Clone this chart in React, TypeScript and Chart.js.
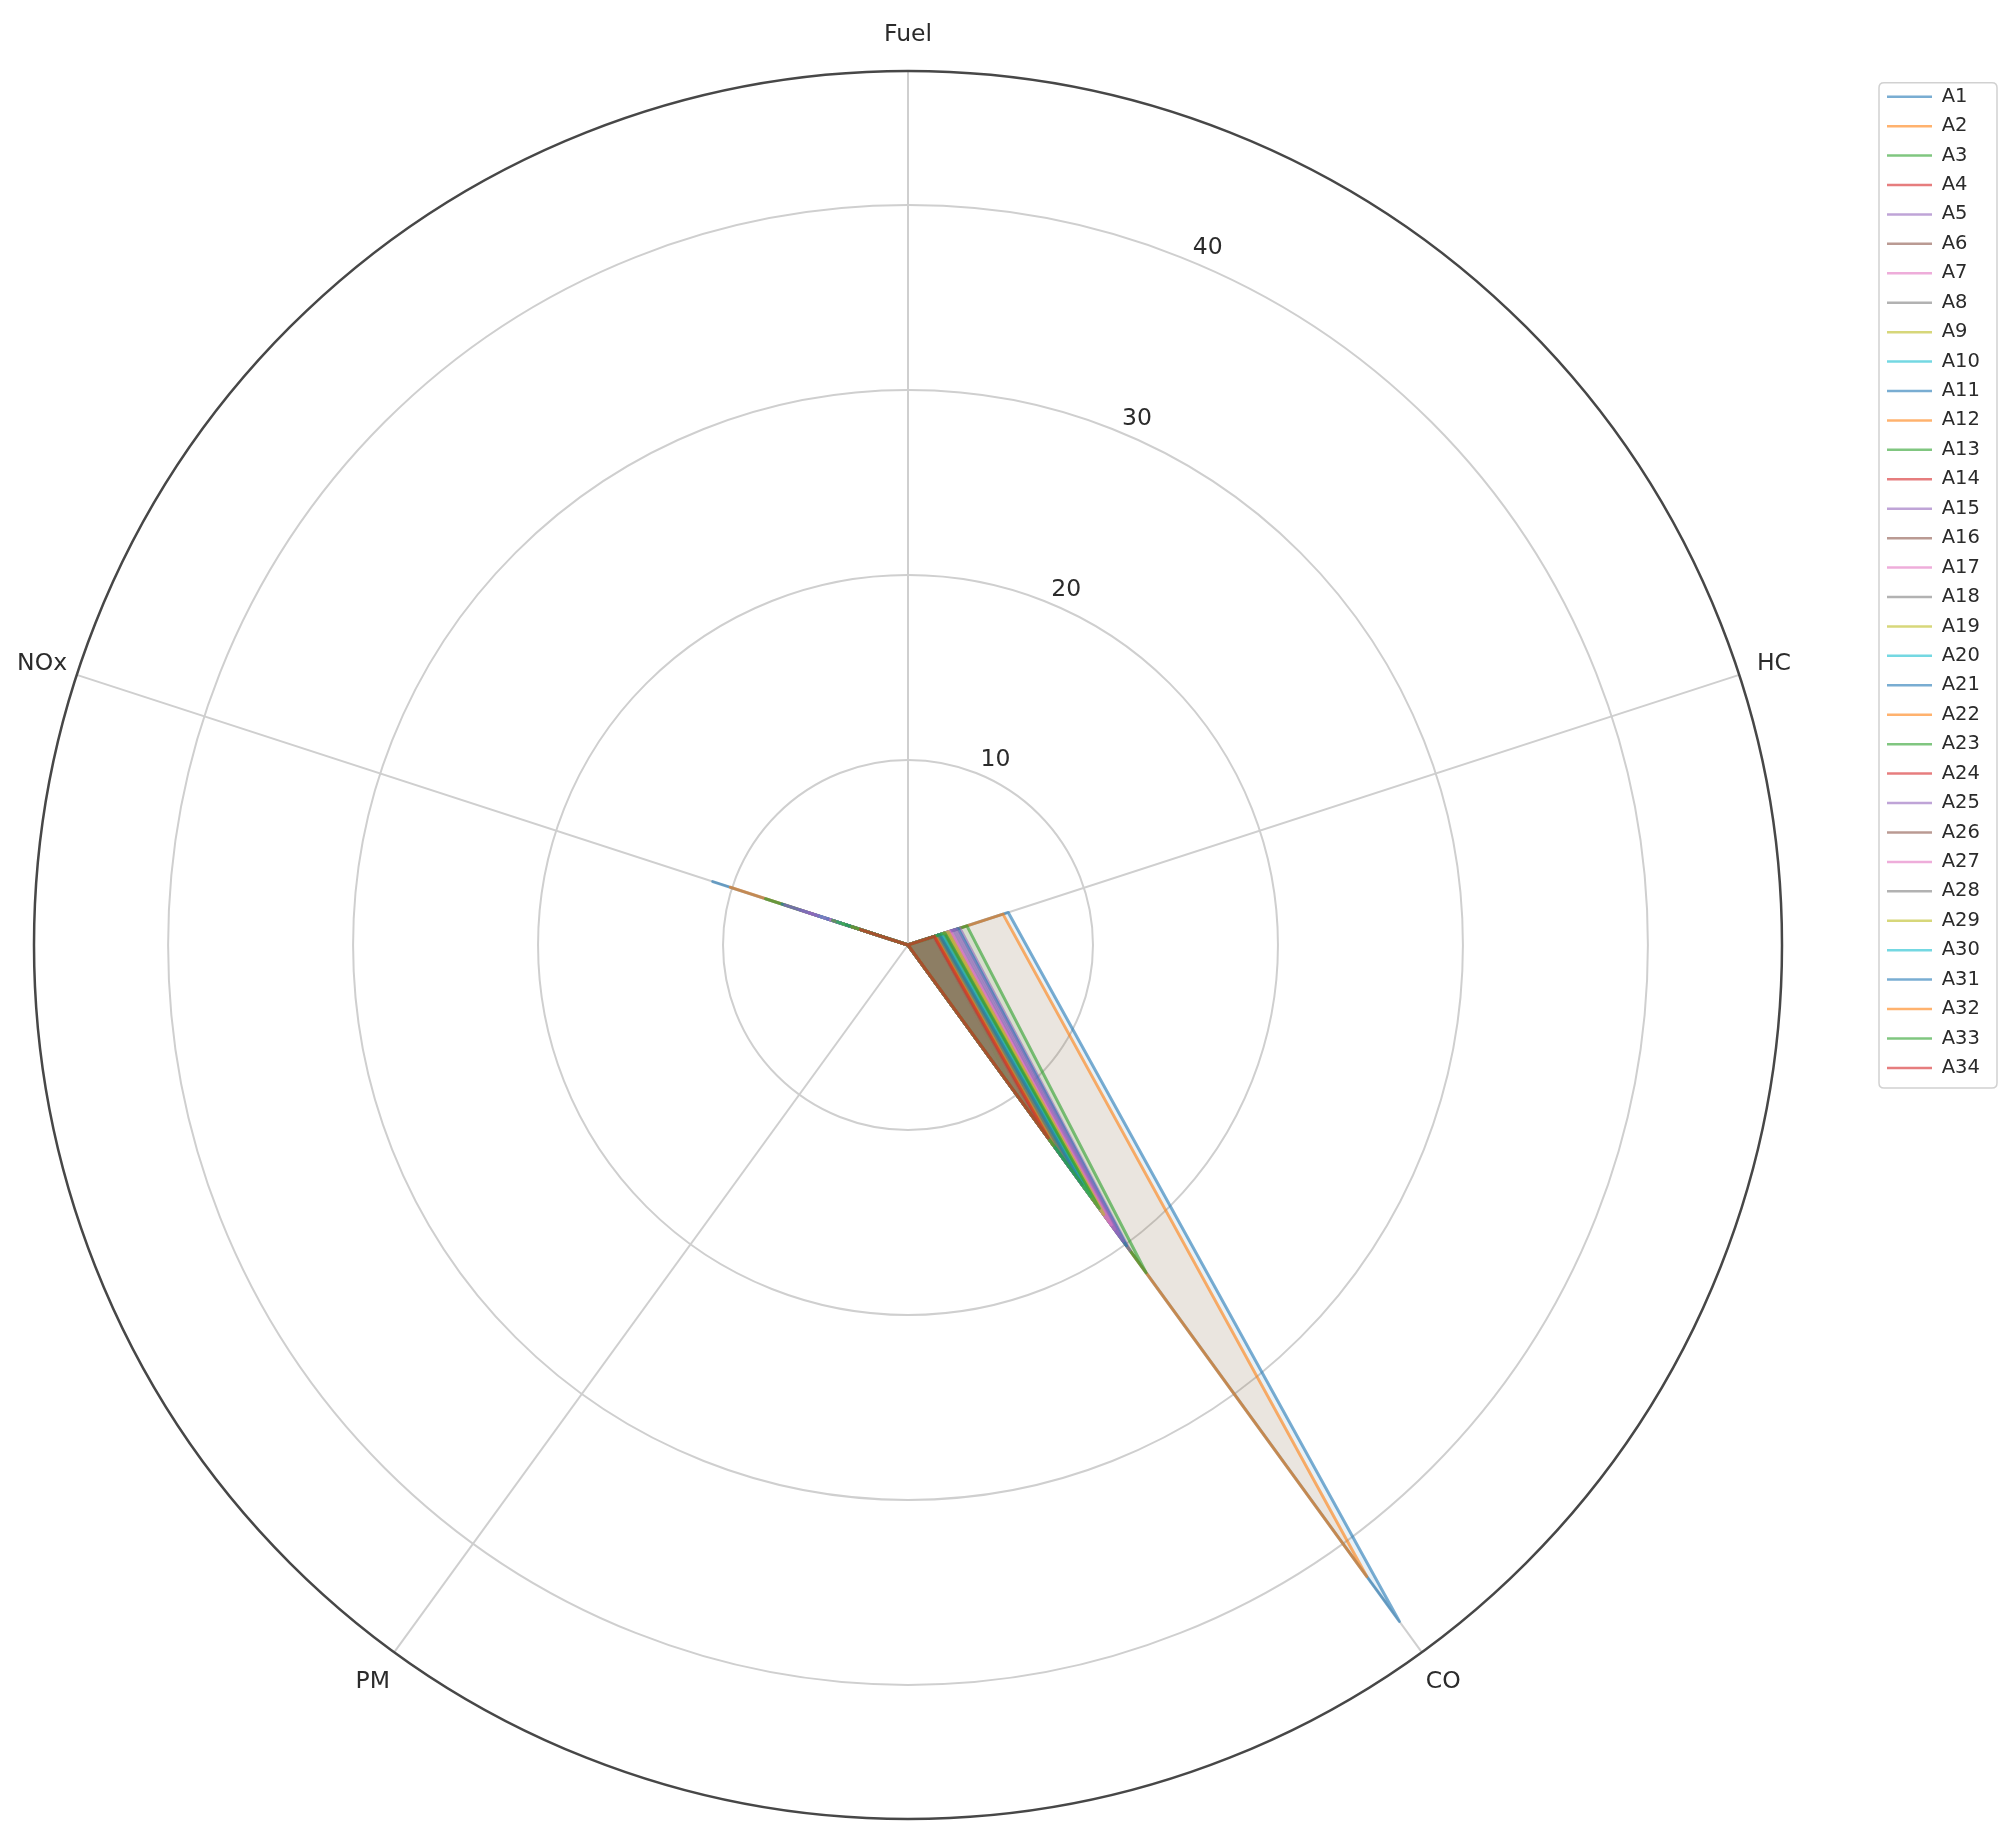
import { useEffect, useRef } from 'react';
import { Chart, registerables } from 'chart.js';

Chart.register(...registerables);

// ---------- data ----------
const categories = ['Fuel', 'HC', 'CO', 'PM', 'NOx'];

const seriesLabels = [
  'A1', 'A2', 'A3', 'A4', 'A5', 'A6', 'A7', 'A8', 'A9', 'A10',
  'A11', 'A12', 'A13', 'A14', 'A15', 'A16', 'A17', 'A18', 'A19', 'A20',
  'A21', 'A22', 'A23', 'A24', 'A25', 'A26', 'A27', 'A28', 'A29', 'A30',
  'A31', 'A32', 'A33', 'A34',
];

const fuelValues = [
  0, 0, 0, 0, 0, 0, 0, 0, 0, 0,
  0, 0, 0, 0, 0, 0, 0, 0, 0, 0,
  0, 0, 0, 0, 0, 0, 0, 0, 0, 0,
  0, 0, 0, 0,
];

const hcValues = [
  5.7, 5.4, 3.35, 1.5, 2.95, 1.6, 2.45, 2.1, 2.25, 1.95,
  2.85, 1.5, 1.85, 1.55, 2.75, 1.7, 2.4, 1.9, 2.2, 2.0,
  1.8, 1.6, 2.05, 1.45, 2.6, 1.75, 2.35, 1.7, 2.3, 1.9,
  1.8, 1.55, 2.1, 1.5,
];

const coValues = [
  45.2, 42.2, 21.9, 10.5, 20.4, 14.8, 19.6, 18.2, 18.9, 13.1,
  20.1, 11.8, 9.5, 12.6, 19.8, 15.5, 19.0, 17.1, 18.4, 17.8,
  16.4, 13.9, 17.4, 12.2, 19.3, 15.0, 18.7, 15.8, 18.0, 16.8,
  16.0, 13.4, 17.6, 12.9,
];

const pmValues = [
  0, 0, 0, 0, 0, 0, 0, 0, 0, 0,
  0, 0, 0, 0, 0, 0, 0, 0, 0, 0,
  0, 0, 0, 0, 0, 0, 0, 0, 0, 0,
  0, 0, 0, 0,
];

const noxValues = [
  11.1, 10.1, 8.1, 3.4, 6.2, 4.1, 6.0, 3.2, 3.6, 5.25,
  7.15, 3.0, 2.8, 3.3, 7.0, 3.9, 4.8, 3.1, 3.8, 5.0,
  4.6, 2.9, 4.2, 2.6, 5.6, 3.6, 4.4, 3.0, 3.7, 4.0,
  3.5, 3.2, 4.3, 2.7,
];

const radialTicks = [10, 20, 30, 40];
const radialMax = 47.25;

const palette = [
  '#1f77b4', '#ff7f0e', '#2ca02c', '#d62728', '#9467bd',
  '#8c564b', '#e377c2', '#7f7f7f', '#bcbd22', '#17becf',
];

// ---------- styling ----------
const W = 2000;
const H = 1828;
const FONT = '"DejaVu Sans", sans-serif';
const TEXT_COLOR = '#2b2b2b';
const LABEL_SIZE = 23.5;
const LEGEND_SIZE = 19.5;
const LEGEND_PAD = 9.93;
const BOX_W = 45;
const LEGEND_LINE_LEFT = 1879; // canvas x of legend line start
const FIRST_LINE_Y = 88.7; // canvas y of first legend line
const PAD_TOP = 63;
const PAD_BOTTOM = 17;
const CHART_RIGHT = 1801; // right edge of chart area (left edge is 0)

function rgba(hex: string, a: number) {
  const n = parseInt(hex.slice(1), 16);
  return `rgba(${(n >> 16) & 255},${(n >> 8) & 255},${n & 255},${a})`;
}

export default function App() {
  const ref = useRef<HTMLCanvasElement | null>(null);

  useEffect(() => {
    const canvas = ref.current;
    if (!canvas) return;

    const mctx = document.createElement('canvas').getContext('2d')!;
    mctx.font = `${LEGEND_SIZE}px ${FONT}`;
    const maxTextW = Math.max(...seriesLabels.map((s) => mctx.measureText(s).width));
    const legendWidth = LEGEND_PAD + BOX_W + LEGEND_SIZE / 2 + maxTextW + 10;
    const legendLeft = LEGEND_LINE_LEFT - LEGEND_PAD;
    const padRight = W - legendLeft - legendWidth;
    const gap = legendLeft - CHART_RIGHT;
    const titleH = FIRST_LINE_Y - PAD_TOP - LEGEND_PAD - LEGEND_SIZE / 2;

    const datasets = seriesLabels.map((label, i) => {
      const c = palette[i % palette.length];
      return {
        label,
        data: [fuelValues[i], hcValues[i], coValues[i], pmValues[i], noxValues[i]],
        borderColor: rgba(c, 0.6),
        backgroundColor: rgba(c, 0.1),
        borderWidth: 3,
        fill: true,
        pointRadius: 0,
        pointHoverRadius: 0,
        order: seriesLabels.length - i,
      };
    });

    const overlay = {
      id: 'overlay',
      afterDatasetsDraw(chart: any) {
        const s = chart.scales.r;
        const ctx = chart.ctx;
        ctx.save();
        // polar spine
        ctx.beginPath();
        ctx.arc(s.xCenter, s.yCenter, s.drawingArea, 0, Math.PI * 2);
        ctx.strokeStyle = '#474747';
        ctx.lineWidth = 2.5;
        ctx.stroke();
        // category labels
        ctx.fillStyle = TEXT_COLOR;
        ctx.font = `${LABEL_SIZE}px ${FONT}`;
        ctx.textAlign = 'center';
        ctx.textBaseline = 'middle';
        categories.forEach((c, i) => {
          const p = s.getPointPosition(i, s.drawingArea + 36.5);
          ctx.fillText(c, p.x, p.y);
        });
        // radial tick labels at 22.5 degrees
        const a = (22.5 * Math.PI) / 180;
        radialTicks.forEach((v) => {
          const d = s.getDistanceFromCenterForValue(v);
          const x = s.xCenter + d * Math.sin(a) + 16.6;
          const y = s.yCenter - d * Math.cos(a) - 13.75;
          ctx.fillText(String(v), x, y);
        });
        ctx.restore();
      },
      afterDraw(chart: any) {
        const lg = chart.legend;
        if (!lg) return;
        const ctx = chart.ctx;
        const lineLeft = lg.left + LEGEND_PAD;
        const firstY = lg.top + titleH + LEGEND_PAD + LEGEND_SIZE / 2;
        const lastY = firstY + (seriesLabels.length - 1) * (LEGEND_SIZE + LEGEND_PAD);
        const x0 = lineLeft - 8;
        const x1 = lineLeft + 110;
        const y0 = firstY - 14;
        const y1 = lastY + 20;
        const r = 5;
        ctx.save();
        ctx.beginPath();
        ctx.moveTo(x0 + r, y0);
        ctx.lineTo(x1 - r, y0);
        ctx.quadraticCurveTo(x1, y0, x1, y0 + r);
        ctx.lineTo(x1, y1 - r);
        ctx.quadraticCurveTo(x1, y1, x1 - r, y1);
        ctx.lineTo(x0 + r, y1);
        ctx.quadraticCurveTo(x0, y1, x0, y1 - r);
        ctx.lineTo(x0, y0 + r);
        ctx.quadraticCurveTo(x0, y0, x0 + r, y0);
        ctx.closePath();
        ctx.strokeStyle = 'rgba(204,204,204,0.9)';
        ctx.lineWidth = 1.5;
        ctx.stroke();
        ctx.restore();
      },
    };

    const chart = new Chart(canvas, {
      type: 'radar',
      data: { labels: categories, datasets },
      options: {
        responsive: false,
        animation: false,
        events: [],
        layout: { padding: { left: 0, right: padRight, top: PAD_TOP, bottom: PAD_BOTTOM } },
        elements: {
          line: { tension: 0, borderJoinStyle: 'round', borderCapStyle: 'round' },
          point: { radius: 0 },
        },
        scales: {
          r: {
            min: 0,
            max: radialMax,
            beginAtZero: true,
            ticks: { display: false, stepSize: 10, includeBounds: false },
            grid: { circular: true, color: '#cfcfcf', lineWidth: 2 },
            angleLines: { display: true, color: '#cfcfcf', lineWidth: 2 },
            pointLabels: { display: false },
          },
        },
        plugins: {
          tooltip: { enabled: false },
          // empty spacer between the polar area and the legend
          title: {
            display: true,
            text: ' ',
            position: 'right',
            weight: 500,
            font: { size: 1, lineHeight: 1 },
            padding: { top: gap - 1, bottom: 0 },
          },
          legend: {
            position: 'right',
            align: 'start',
            title: {
              display: true,
              text: ' ',
              font: { size: 1, lineHeight: 1 },
              padding: { top: titleH - 1, bottom: 0 },
            },
            labels: {
              boxWidth: BOX_W,
              boxHeight: 2.5,
              padding: LEGEND_PAD,
              color: TEXT_COLOR,
              font: { family: FONT, size: LEGEND_SIZE },
              sort: (a: any, b: any) => a.datasetIndex - b.datasetIndex,
              generateLabels: (ch: any) =>
                (Chart.defaults.plugins.legend.labels.generateLabels as any)(ch).map((it: any) => ({
                  ...it,
                  fillStyle: it.strokeStyle,
                  lineWidth: 0,
                })),
            },
          },
        },
      } as any,
      plugins: [overlay],
    });

    return () => chart.destroy();
  }, []);

  return (
    <canvas
      ref={ref}
      width={W}
      height={H}
      style={{ display: 'block', width: W, height: H }}
    />
  );
}
